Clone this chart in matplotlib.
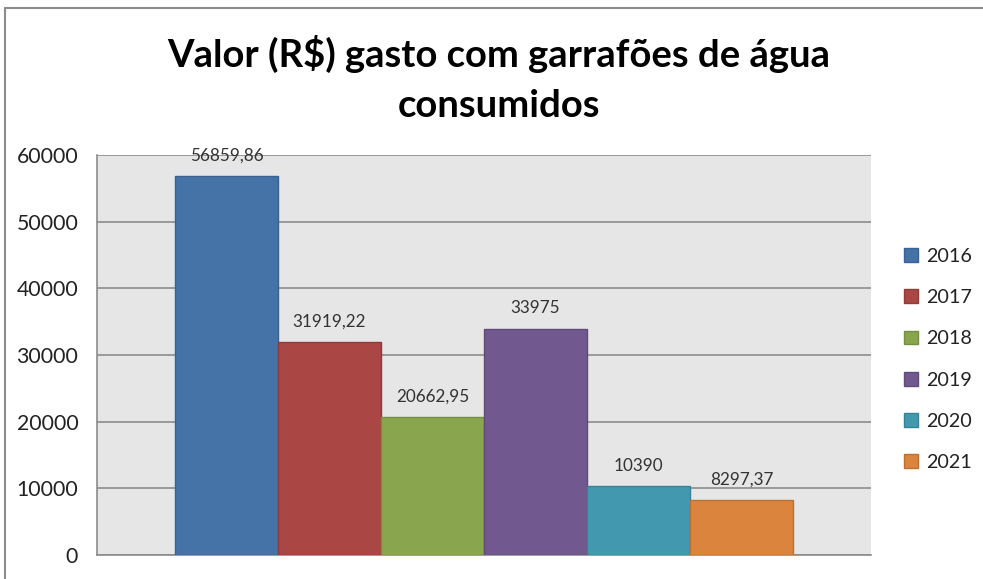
import matplotlib
matplotlib.use("Agg")
import matplotlib.pyplot as plt
from matplotlib.patches import Rectangle

years = ["2016", "2017", "2018", "2019", "2020", "2021"]
values = [56859.86, 31919.22, 20662.95, 33975, 10390, 8297.37]
value_labels = ["56859,86", "31919,22", "20662,95", "33975", "10390", "8297,37"]
colors = ["#4572A7", "#AA4643", "#89A54E", "#71588F", "#4198AF", "#DB843D"]
edge_colors = ["#3A6190", "#913B39", "#759042", "#604B7A", "#378296", "#BC7033"]
yticks = [0, 10000, 20000, 30000, 40000, 50000, 60000]

plt.rcParams['font.family'] = ['Lato', 'DejaVu Sans']

fig = plt.figure(figsize=(9.83, 5.79), dpi=100)
fig.patch.set_facecolor("white")
ax = fig.add_axes([97/983, 24/579, (871-97)/983, 400/579])
ax.set_facecolor("#E6E6E6")

for i, (y, v, c, ec, lab) in enumerate(zip(years, values, colors, edge_colors, value_labels)):
    ax.bar(i, v, width=1.0, color=c, edgecolor=ec, linewidth=1, label=y, zorder=3)
    ax.annotate(lab, (i, v), xytext=(0, 14.5), textcoords="offset points",
                ha="center", va="center", fontsize=12.3, color="#333333", zorder=4)

ax.set_xlim(-1.257, 6.257)
ax.set_ylim(0, 60000)
ax.set_yticks(yticks)
ax.set_yticklabels([str(t) for t in yticks], fontsize=15.3, color="#222222")
ax.set_xticks([])
ax.grid(axis="y", color="#8C8C8C", linewidth=1.2, zorder=1)
for s in ["top", "right"]:
    ax.spines[s].set_visible(False)
ax.spines["left"].set_color("#8C8C8C")
ax.spines["bottom"].set_color("#8C8C8C")
ax.spines["left"].set_linewidth(1.2)
ax.spines["bottom"].set_linewidth(1.2)
ax.tick_params(axis="y", length=0, pad=13.5)

leg = fig.legend(loc="upper left", bbox_to_anchor=(896/983, 1 - 240/579), frameon=False,
                 fontsize=14.2, handlelength=0.7, handleheight=0.7, handletextpad=0.45,
                 labelspacing=1.23, borderaxespad=0)
for t in leg.get_texts():
    t.set_color("#222222")

fig.text(499/983, 1 - 79/579, "Valor (R\\$) gasto com garrafões de água\nconsumidos",
         ha="center", va="center", fontsize=27.5, fontweight="bold", color="black",
         linespacing=1.58)

fig.patches.append(Rectangle((5/983, -0.05), 1.2, 1 - 8/579 + 0.05, transform=fig.transFigure,
                             fill=False, edgecolor="#8C8C8C", linewidth=1.5))

fig.savefig("out.png", dpi=100)
